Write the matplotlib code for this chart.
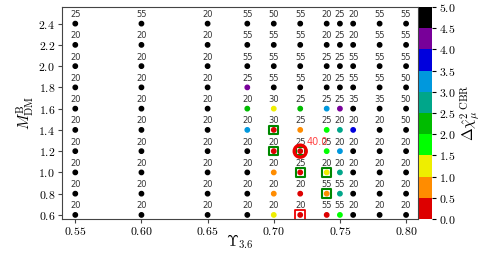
import numpy as np
import matplotlib
matplotlib.use('Agg')
import matplotlib.pyplot as plt
from matplotlib.colors import ListedColormap, BoundaryNorm
from matplotlib.ticker import FuncFormatter

plt.rcParams['mathtext.fontset'] = 'cm'

# grille des points
upsilon = [0.55, 0.60, 0.65, 0.68, 0.70, 0.72, 0.74, 0.75, 0.76, 0.78, 0.80]
m_dm = [2.4, 2.2, 2.0, 1.8, 1.6, 1.4, 1.2, 1.0, 0.8, 0.6]

# etiquettes au-dessus de chaque point (lignes de haut en bas)
labels = [
    [25, 55, 20, 55, 50, 55, 20, 25, 20, 55, 55],
    [20, 20, 20, 55, 55, 55, 20, 25, 20, 55, 55],
    [20, 20, 20, 55, 55, 55, 25, 25, 55, 55, 55],
    [20, 20, 20, 25, 55, 55, 20, 25, 55, 55, 50],
    [20, 20, 20, 20, 30, 25, 25, 25, 35, 35, 50],
    [20, 20, 20, 20, 30, 25, 25, 20, 20, 20, 50],
    [20, 20, 20, 20, 20, 25, 25, 20, 20, 20, 20],
    [20, 20, 20, 20, 20, 25, 20, 20, 20, 20, 20],
    [20, 20, 20, 20, 20, 20, 55, 55, 20, 20, 20],
    [20, 20, 20, 20, 20, 20, 55, 55, 20, 20, 20],
]

# delta chi2 (valeurs estimees d'apres la couleur)
X = 9.0
chi2 = [
    [X, X, X, X, X, X, X, X, X, X, X],
    [X, X, X, X, X, X, X, X, X, X, X],
    [X, X, X, X, X, X, X, X, X, X, X],
    [X, X, X, 4.25, X, X, X, X, X, X, X],
    [X, X, X, 2.25, 1.25, 2.25, 3.25, 4.25, X, X, X],
    [X, X, X, 3.25, 0.25, 0.75, 1.75, 2.75, 3.75, X, X],
    [X, X, X, X, 0.25, 0.25, 1.75, 3.25, X, X, X],
    [X, X, X, X, 0.75, 0.25, 1.25, 2.75, X, X, X],
    [X, X, X, X, 0.75, 0.25, 0.75, 2.75, X, X, X],
    [X, X, X, X, 1.25, 0.25, 0.25, 1.75, X, X, X],
]

green_sq = [(0.70, 1.4), (0.70, 1.2), (0.72, 1.2), (0.72, 1.0), (0.74, 1.0), (0.74, 0.8)]
red_circle = (0.72, 1.2)
red_sq = (0.72, 0.6)
best_txt = '40.0'

colors = ['#dd0000', '#ff8c00', '#eeee00', '#00ff00', '#00bb00',
          '#00a68a', '#0098dd', '#0000dd', '#780099', '#000000']
cmap = ListedColormap(colors)
bounds = np.arange(0, 5.01, 0.5)
norm = BoundaryNorm(bounds, cmap.N, clip=True)

fig = plt.figure(figsize=(4.81, 2.57), dpi=100)
ax = fig.add_axes([0.129, 0.148, 0.740, 0.825])
cax = fig.add_axes([0.871, 0.148, 0.027, 0.825])

xx, yy = np.meshgrid(upsilon, m_dm)
cc = np.clip(np.array(chi2), 0, 4.99)
sc = ax.scatter(xx.ravel(), yy.ravel(), c=cc.ravel(), cmap=cmap, norm=norm, s=10, zorder=3)

for i, y in enumerate(m_dm):
    for j, x in enumerate(upsilon):
        ax.text(x, y + 0.085, str(labels[i][j]), ha='center', va='center',
                fontsize=6, color='#333333')

for (x, y) in green_sq:
    ax.scatter(x, y, marker='s', s=38, facecolors='none', edgecolors='#008800',
               linewidths=1.5, zorder=4)
ax.scatter(*red_circle, marker='o', s=75, facecolors='none', edgecolors='#ee0000',
           linewidths=2.4, zorder=5)
ax.scatter(*red_sq, marker='s', s=55, facecolors='none', edgecolors='#ee0000',
           linewidths=1.3, zorder=5)
ax.text(red_circle[0] + 0.0045, red_circle[1] + 0.085, best_txt, color='#ff4444',
        fontsize=7, ha='left', va='center')

ax.set_xlim(0.540, 0.809)
ax.set_ylim(0.562, 2.557)
ax.set_xticks([0.55, 0.60, 0.65, 0.70, 0.75, 0.80])
ax.set_yticks(np.arange(0.6, 2.41, 0.2))
ax.xaxis.set_major_formatter(FuncFormatter(lambda v, p: r'$%.2f$' % v))
ax.yaxis.set_major_formatter(FuncFormatter(lambda v, p: r'$%.1f$' % v))
ax.tick_params(labelsize=8.5, length=3, pad=2, color='#444444')
ax.tick_params(axis='x', pad=1)
for s in ax.spines.values():
    s.set_color('#444444')
ax.set_xlabel(r'$\Upsilon_{3.6}$', fontsize=11)
ax.set_ylabel(r'$M^{\rm B}_{\rm DM}$', fontsize=11)
ax.xaxis.set_label_coords(0.5, -0.065)
ax.yaxis.set_label_coords(-0.07, 0.5)

cb = fig.colorbar(sc, cax=cax, ticks=bounds)
cb.ax.yaxis.set_major_formatter(FuncFormatter(lambda v, p: r'$%.1f$' % v))
cb.ax.tick_params(labelsize=8.5, length=3, pad=2)
cb.outline.set_visible(False)
cb.set_label(r'$\Delta\hat{\chi}^{2\ {\rm CBR}}_{\mu}$', fontsize=11, labelpad=2)

fig.savefig('out.png', dpi=100)
